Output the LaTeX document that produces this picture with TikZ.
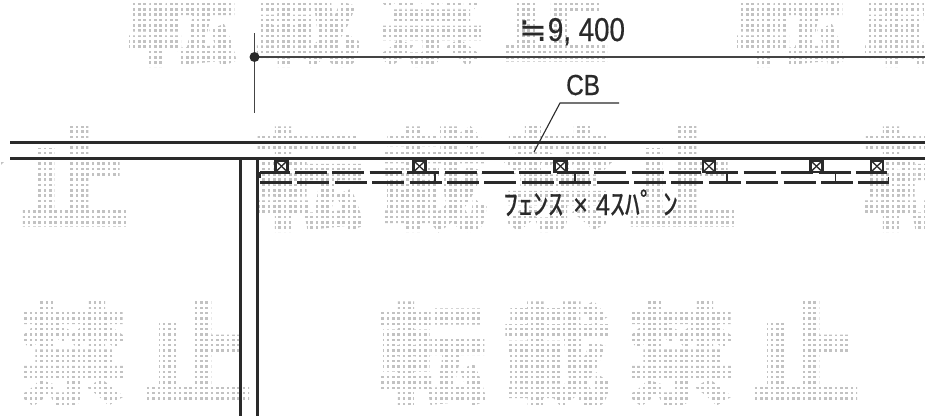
\documentclass[tikz,border=0pt]{standalone}
\usepackage{fontspec}
\setmainfont{Liberation Sans}
\newfontfamily\cjk[FakeBold=0.6]{Noto Sans CJK JP}
\newfontfamily\cjkwm[FakeBold=1.2]{Noto Sans CJK JP}
\newfontfamily\dejavu[FakeBold=0.3]{DejaVu Sans}
\newfontfamily\narrow[FakeStretch=0.84,FakeBold=0.5]{Liberation Sans}
\definecolor{ink}{HTML}{2A2A2A}
\definecolor{dimink}{HTML}{444444}
\definecolor{wmark}{HTML}{C2C2C2}
\tikzset{
  slabline/.style={draw=ink,line width=3pt},
  dimline/.style={draw=dimink,line width=1.9pt},
  thinline/.style={draw=ink,line width=1.1pt},
  fenceline/.style={draw=ink,line width=2.2pt,dash pattern=on 32pt off 5.4pt},
  tickline/.style={draw=ink,line width=1.9pt},
  postbox/.style={draw=ink,line width=2.2pt},
  wmchar/.style={anchor=base,inner sep=0pt,text=wmark,font=\cjkwm\bfseries\fontsize{110}{110}\selectfont},
  label/.style={anchor=base west,inner sep=0pt,text=ink},
}
\newcommand{\wmrow}[7]{% ymin ymax dotx doty x0 baseline id
  \begin{scope}
    \clip (0,#1) rectangle (925,#2);
    \foreach \c [count=\i from 0,
      evaluate=\i as \px using {#5+52+124.5*mod(\i,4)+608*floor(\i/4)}] in {転,載,禁,止,転,載,禁,止,転,載,禁,止}{
      \node[wmchar] (wm#7\i) at (\px,#6) {\c};
    }
    \foreach \k in {-100,...,180}{
      \draw[white,line width=2.9pt] ({#3+2.667+5.333*\k},#1) -- ++(0,#2-#1);
    }
    \foreach \k in {-30,...,30}{
      \draw[white,line width=2.9pt] (0,{#4+2.667+5.333*\k}) -- ++(925,0);
    }
  \end{scope}
}
\begin{document}
\begin{tikzpicture}[x=1pt,y=-1pt]
\useasboundingbox (0,0) rectangle (925,416);
\fill[white] (0,0) rectangle (925,416);
% watermark
\wmrow{-45}{75}{283.3}{46.7}{-478}{56}{a}
\wmrow{125}{235}{39.7}{131.7}{-351}{221}{b}
\wmrow{295}{416}{382.7}{302.5}{-228}{396}{c}
% dimension
\coordinate (dimO) at (254.5,57);
\coordinate (dimE) at (925,57);
\coordinate (dimT) at (254.5,33);
\coordinate (dimB) at (254.5,113);
\draw[dimline] (dimO) -- (dimE);
\draw[thinline,draw=dimink] (dimT) -- (dimB);
\fill[ink] (dimO) circle (5pt);
\node[label] (dimtext) at (519,41) {{\dejavu\fontsize{33}{33}\selectfont ≒}\hspace{1pt}{\narrow\fontsize{33}{33}\selectfont 9, 400}};
% CB
\node[label] (cb) at (566,95) {\narrow\fontsize{29}{29}\selectfont CB};
\coordinate (leadA) at (534,152);
\coordinate (leadB) at (560,103);
\coordinate (leadC) at (619,103);
\draw[thinline] (leadA) -- (leadB) -- (leadC);
% slab and wall
\coordinate (sa) at (10,142); \coordinate (sb) at (925,142);
\coordinate (sc) at (10,158); \coordinate (sd) at (925,158);
\coordinate (wa) at (240,158); \coordinate (wb) at (240,416);
\coordinate (wc) at (257,158); \coordinate (wd) at (257,416);
\draw[slabline] (sa) -- (sb);
\draw[slabline] (sc) -- (sd);
\draw[slabline] (wa) -- (wb);
\draw[slabline] (wc) -- (wd);
% fence
\coordinate (fa) at (260,172.5); \coordinate (fb) at (887,172.5);
\coordinate (fc) at (260,182.5); \coordinate (fd) at (889,182.5);
\draw[fenceline,dash phase=2.5pt] (fa) -- (fb);
\draw[fenceline] (fc) -- (fd);
\draw[tickline] (260,172) -- (260,178);
\draw[tickline] (888.5,177) -- (888.5,183);
\foreach \x in {435,575,727,835.5}{
  \draw[tickline] (\x,172.5) -- (\x,182.5);
}
\foreach \x in {281.5,419.5,560.5,709,816.5,877}{
  \fill[white] (\x-6.5,160.5) rectangle (\x+6.5,172);
  \draw[postbox] (\x-6,160.5) rectangle (\x+6,172);
  \draw[draw=ink,line width=1.3pt] (\x-6,160.5) -- (\x+6,172) (\x-6,172) -- (\x+6,160.5);
}
% fence label
\node[label] (fencetext) at (503,215) {\cjk\fontsize{30}{30}\selectfont ﾌｪﾝｽ\hspace{10pt}{\narrow ×}\hspace{8pt}{\narrow 4}ｽﾊﾟ\hspace{8pt}ﾝ};
\end{tikzpicture}
\end{document}
